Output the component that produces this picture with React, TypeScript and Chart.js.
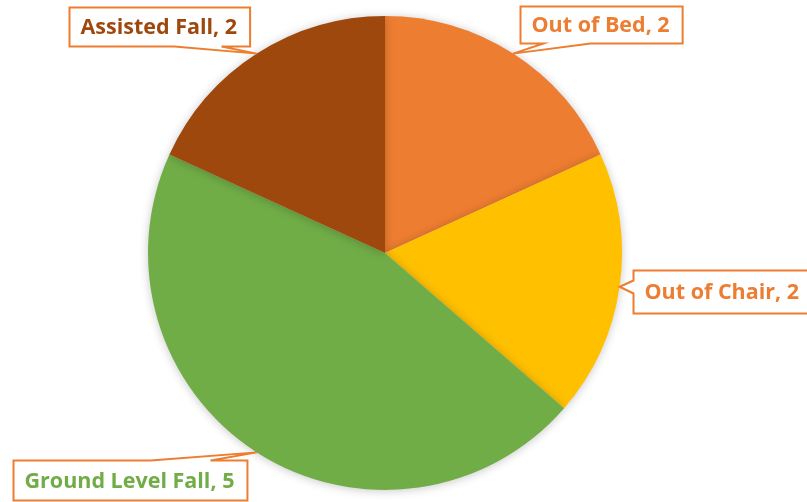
import React, { useEffect, useRef } from "react";
import { Chart, registerables } from "chart.js";

Chart.register(...registerables);

const categories = ["Out of Bed", "Out of Chair", "Ground Level Fall", "Assisted Fall"];
const values = [2, 2, 5, 2];
const sliceColors = ["#ED7D31", "#FFC000", "#70AD47", "#9E480E"];
const textColors = ["#ED7D31", "#ED7D31", "#70AD47", "#9E480E"];

// callout layout: box offset from anchor, wedge edge and base offsets along that edge
const calloutLayout = [
  { dx: 7, dy: -48, h: 37, edge: "bottom", b0: 23, b1: 70 },
  { dx: 13, dy: -17, h: 43, edge: "left", b0: 10, b1: 23 },
  { dx: -244, dy: 8, h: 40, edge: "top", b0: 137, b1: 197 },
  { dx: -188, dy: -47, h: 39, edge: "bottom", b0: 105, b1: 152 },
];

const FONT = "bold 21.5px 'Open Sans'";

const shadowPlugin = {
  id: "pieShadow",
  beforeDatasetsDraw(chart: any) {
    const ctx = chart.ctx;
    ctx.save();
    ctx.shadowColor = "rgba(0,0,0,0.22)";
    ctx.shadowBlur = 10;
    ctx.shadowOffsetX = 0;
    ctx.shadowOffsetY = 1;
  },
  afterDatasetsDraw(chart: any) {
    chart.ctx.restore();
  },
};

const calloutPlugin = {
  id: "callouts",
  afterDraw(chart: any) {
    const ctx = chart.ctx;
    const meta = chart.getDatasetMeta(0);
    ctx.save();
    ctx.font = FONT;
    meta.data.forEach((arc: any, i: number) => {
      const p = arc.getProps(["x", "y", "startAngle", "endAngle", "outerRadius"], true);
      const mid = (p.startAngle + p.endAngle) / 2;
      const ax = p.x + Math.cos(mid) * p.outerRadius;
      const ay = p.y + Math.sin(mid) * p.outerRadius;
      const L = calloutLayout[i];
      const text = `${categories[i]}, ${values[i]}`;
      const tw = ctx.measureText(text).width;
      const padL = 11;
      const padR = 13;
      const w = tw + padL + padR;
      const h = L.h;
      const x0 = Math.round(ax + L.dx) + 0.5;
      const y0 = Math.round(ay + L.dy) + 0.5;
      const x1 = x0 + w;
      const y1 = y0 + h;
      ctx.beginPath();
      ctx.moveTo(x0, y0);
      if (L.edge === "top") {
        ctx.lineTo(x0 + L.b0, y0);
        ctx.lineTo(ax, ay);
        ctx.lineTo(x0 + L.b1, y0);
      }
      ctx.lineTo(x1, y0);
      ctx.lineTo(x1, y1);
      if (L.edge === "bottom") {
        ctx.lineTo(x0 + L.b1, y1);
        ctx.lineTo(ax, ay);
        ctx.lineTo(x0 + L.b0, y1);
      }
      ctx.lineTo(x0, y1);
      if (L.edge === "left") {
        ctx.lineTo(x0, y0 + L.b1);
        ctx.lineTo(ax, ay);
        ctx.lineTo(x0, y0 + L.b0);
      }
      ctx.closePath();
      ctx.fillStyle = "#FFFFFF";
      ctx.fill();
      ctx.lineWidth = 2;
      ctx.strokeStyle = "#ED7D31";
      ctx.lineJoin = "miter";
      ctx.stroke();
      ctx.fillStyle = textColors[i];
      ctx.textAlign = "left";
      ctx.textBaseline = "middle";
      ctx.fillText(text, x0 + padL, y0 + h / 2 + 1);
    });
    ctx.restore();
  },
};

export default function App() {
  const ref = useRef<HTMLCanvasElement>(null);
  useEffect(() => {
    if (!ref.current) return;
    const chart = new Chart(ref.current, {
      type: "pie",
      data: {
        labels: categories,
        datasets: [
          {
            data: values,
            backgroundColor: sliceColors,
            borderWidth: 0,
          },
        ],
      },
      options: {
        animation: false,
        responsive: false,
        maintainAspectRatio: false,
        layout: { padding: { top: 16, bottom: 12, left: 148, right: 185 } },
        plugins: {
          legend: { display: false },
          tooltip: { enabled: false },
        },
      },
      plugins: [shadowPlugin, calloutPlugin],
    });
    return () => chart.destroy();
  }, []);
  return (
    <div style={{ position: "fixed", left: 0, top: 0, width: 807, height: 502, background: "#fff" }}>
      <canvas ref={ref} width={807} height={502} style={{ width: 807, height: 502, display: "block" }} />
    </div>
  );
}
